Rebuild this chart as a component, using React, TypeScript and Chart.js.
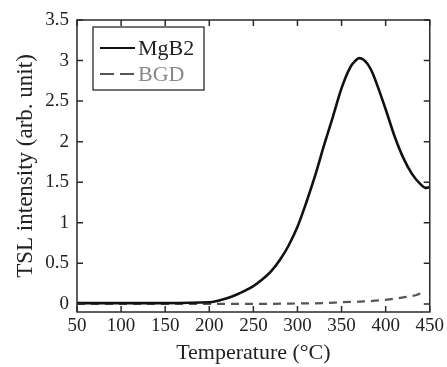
import React, { useEffect, useRef } from "react";
import { Chart, registerables } from "chart.js";

Chart.register(...registerables);

const mgTemps = [50, 100, 150, 200, 210, 220, 230, 240, 250, 260, 270, 280, 290, 300, 310, 320, 330, 340, 350, 360, 365, 370, 375, 380, 385, 390, 400, 410, 420, 430, 440, 445, 450];
const mgValues = [0.01, 0.01, 0.01, 0.02, 0.04, 0.07, 0.11, 0.16, 0.22, 0.3, 0.4, 0.54, 0.72, 0.95, 1.25, 1.58, 1.95, 2.3, 2.66, 2.92, 2.99, 3.03, 3.01, 2.95, 2.85, 2.71, 2.4, 2.07, 1.8, 1.6, 1.47, 1.43, 1.44];
const bgdTemps = [50, 100, 150, 200, 250, 300, 330, 350, 375, 400, 420, 435, 442];
const bgdValues = [0, 0, 0, 0, 0, 0.005, 0.01, 0.02, 0.03, 0.05, 0.08, 0.11, 0.14];
const xTickValues = [50, 100, 150, 200, 250, 300, 350, 400, 450];
const yTickValues = [0, 0.5, 1, 1.5, 2, 2.5, 3, 3.5];
const seriesLabels = ["MgB2", "BGD"];

const FONT = "'Liberation Serif', 'Times New Roman', serif";

const framePlugin = {
  id: "frame",
  afterDatasetsDraw(chart: any) {
    const { ctx, chartArea } = chart;
    const { left, right, top, bottom } = chartArea;
    const x = chart.scales.x;
    const y = chart.scales.y;
    ctx.save();
    ctx.strokeStyle = "#2a2a2a";
    ctx.lineWidth = 1.5;
    ctx.setLineDash([]);
    ctx.strokeRect(left, top, right - left, bottom - top);
    const tl = 6;
    ctx.beginPath();
    x.ticks.forEach((t: any) => {
      const px = x.getPixelForValue(t.value);
      ctx.moveTo(px, bottom);
      ctx.lineTo(px, bottom - tl);
      ctx.moveTo(px, top);
      ctx.lineTo(px, top + tl);
    });
    y.ticks.forEach((t: any) => {
      const py = y.getPixelForValue(t.value);
      ctx.moveTo(left, py);
      ctx.lineTo(left + tl, py);
      ctx.moveTo(right, py);
      ctx.lineTo(right - tl, py);
    });
    ctx.stroke();

    // legend
    const lx = left + 16;
    const ly = top + 7;
    ctx.lineWidth = 1.3;
    ctx.strokeStyle = "#2a2a2a";
    ctx.strokeRect(lx, ly, 111, 63);
    const ds = chart.data.datasets;
    const rows = [ly + 21, ly + 47];
    ds.forEach((d: any, i: number) => {
      ctx.beginPath();
      ctx.strokeStyle = d.borderColor;
      ctx.lineWidth = 2.2;
      ctx.setLineDash(i === 0 ? [] : [14, 6]);
      ctx.moveTo(lx + 7, rows[i]);
      ctx.lineTo(lx + 42, rows[i]);
      ctx.stroke();
      ctx.setLineDash([]);
      ctx.fillStyle = i === 0 ? "#222" : "#888";
      ctx.font = `22px ${FONT}`;
      ctx.textBaseline = "middle";
      ctx.textAlign = "left";
      ctx.fillText(d.label, lx + 45, rows[i] + 1);
    });
    ctx.restore();
  },
};

export default function App() {
  const ref = useRef<HTMLCanvasElement | null>(null);
  useEffect(() => {
    if (!ref.current) return;
    const chart = new Chart(ref.current, {
      type: "line",
      data: {
        datasets: [
          {
            label: seriesLabels[0],
            data: mgTemps.map((t, i) => ({ x: t, y: mgValues[i] })),
            borderColor: "#111",
            borderWidth: 2.6,
            pointRadius: 0,
            cubicInterpolationMode: "monotone",
            fill: false,
          },
          {
            label: seriesLabels[1],
            data: bgdTemps.map((t, i) => ({ x: t, y: bgdValues[i] })),
            borderColor: "#555",
            borderWidth: 2.2,
            borderDash: [8, 6],
            pointRadius: 0,
            cubicInterpolationMode: "monotone",
            fill: false,
          },
        ],
      },
      options: {
        responsive: false,
        animation: false,
        layout: { padding: { top: 20, right: 15, left: 0, bottom: 0 } },
        plugins: { legend: { display: false }, tooltip: { enabled: false } },
        scales: {
          x: {
            type: "linear",
            min: 50,
            max: 450,
            afterBuildTicks: (s: any) => {
              s.ticks = xTickValues.map((v) => ({ value: v }));
            },
            afterFit: (s: any) => {
              s.height = 55;
            },
            grid: { display: false, drawTicks: false },
            border: { display: false },
            ticks: {
              padding: 3,
              color: "#222",
              font: { family: FONT, size: 19 },
              maxRotation: 0,
              callback: (v: any) => String(v),
            },
            title: {
              display: true,
              text: "Temperature (\u00B0C)",
              color: "#222",
              font: { family: FONT, size: 22 },
              padding: { top: 0, bottom: 1 },
            },
          },
          y: {
            type: "linear",
            min: -0.1,
            max: 3.5,
            afterBuildTicks: (s: any) => {
              s.ticks = yTickValues.map((v) => ({ value: v }));
            },
            afterFit: (s: any) => {
              s.width = 77;
            },
            grid: { display: false, drawTicks: false },
            border: { display: false },
            ticks: {
              padding: 8,
              color: "#222",
              font: { family: FONT, size: 19 },
              callback: (v: any) => String(v),
            },
            title: {
              display: true,
              text: "TSL intensity (arb. unit)",
              color: "#222",
              font: { family: FONT, size: 23 },
              padding: { top: 12, bottom: 0 },
            },
          },
        },
      },
      plugins: [framePlugin],
    } as any);
    return () => chart.destroy();
  }, []);
  return (
    <div style={{ position: "fixed", left: 0, top: 0, width: 447, height: 367, background: "#fff" }}>
      <canvas ref={ref} width={447} height={367} style={{ display: "block" }} />
    </div>
  );
}
